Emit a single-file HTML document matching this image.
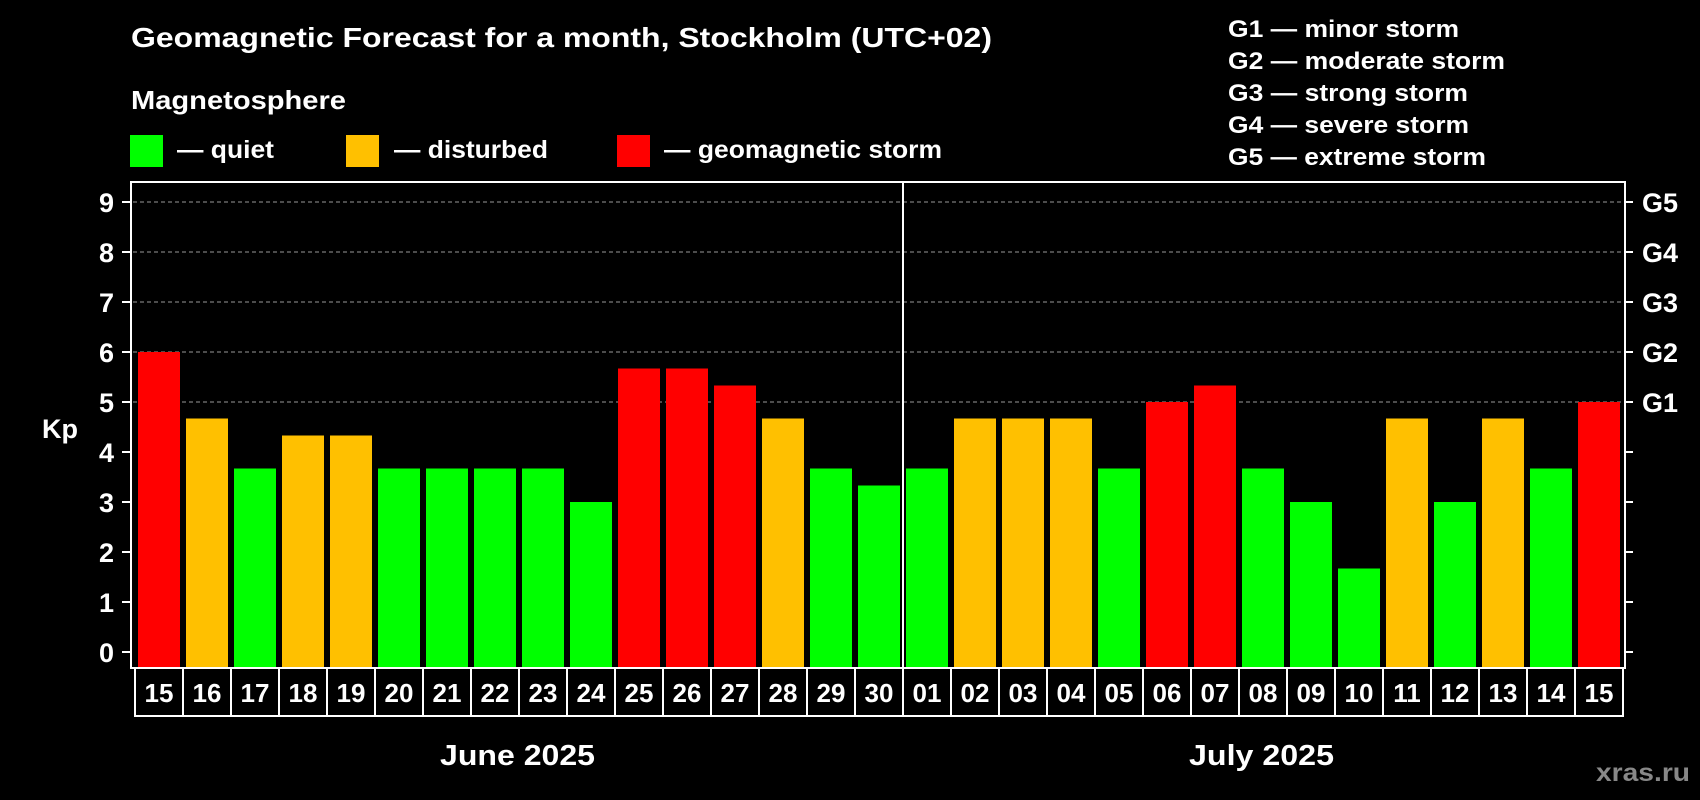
<!DOCTYPE html>
<html><head><meta charset="utf-8"><style>
html,body{margin:0;padding:0;background:#000;}
svg{display:block;font-family:"Liberation Sans",Arial,sans-serif;font-weight:bold;}
</style></head><body>
<svg id="chart" width="1700" height="800" viewBox="0 0 1700 800">
<rect x="0" y="0" width="1700" height="800" fill="#000"/>
<text x="131" y="47" fill="#fff" font-size="28" textLength="861" lengthAdjust="spacingAndGlyphs">Geomagnetic Forecast for a month, Stockholm (UTC+02)</text>
<text x="131" y="109" fill="#fff" font-size="26" textLength="215" lengthAdjust="spacingAndGlyphs">Magnetosphere</text>
<g>
<rect x="130" y="135" width="33" height="32" fill="#00ff00"/>
<text x="177" y="158" fill="#fff" font-size="25" textLength="97" lengthAdjust="spacingAndGlyphs">— quiet</text></g>
<g>
<rect x="346" y="135" width="33" height="32" fill="#ffc000"/>
<text x="394" y="158" fill="#fff" font-size="25" textLength="154" lengthAdjust="spacingAndGlyphs">— disturbed</text></g>
<g>
<rect x="617" y="135" width="33" height="32" fill="#ff0000"/>
<text x="664" y="158" fill="#fff" font-size="25" textLength="278" lengthAdjust="spacingAndGlyphs">— geomagnetic storm</text></g>
<g fill="#fff" font-size="24">
<text x="1228" y="37" textLength="231" lengthAdjust="spacingAndGlyphs">G1 — minor storm</text>
<text x="1228" y="69" textLength="277" lengthAdjust="spacingAndGlyphs">G2 — moderate storm</text>
<text x="1228" y="101" textLength="240" lengthAdjust="spacingAndGlyphs">G3 — strong storm</text>
<text x="1228" y="133" textLength="241" lengthAdjust="spacingAndGlyphs">G4 — severe storm</text>
<text x="1228" y="165" textLength="258" lengthAdjust="spacingAndGlyphs">G5 — extreme storm</text>
</g>
<g id="plot"></g>
<text x="42" y="438" fill="#fff" font-size="27">Kp</text>
<text x="440" y="765" fill="#fff" font-size="29" textLength="155" lengthAdjust="spacingAndGlyphs">June 2025</text>
<text x="1189" y="765" fill="#fff" font-size="29" textLength="145" lengthAdjust="spacingAndGlyphs">July 2025</text>
<text x="1596" y="781" fill="#888" font-size="25" textLength="94" lengthAdjust="spacingAndGlyphs">xras.ru</text>
</svg>
<script>
const days = ["15","16","17","18","19","20","21","22","23","24","25","26","27","28","29","30","01","02","03","04","05","06","07","08","09","10","11","12","13","14","15"];
const kpValues = [6,4.67,3.67,4.33,4.33,3.67,3.67,3.67,3.67,3,5.67,5.67,5.33,4.67,3.67,3.33,3.67,4.67,4.67,4.67,3.67,5,5.33,3.67,3,1.67,4.67,3,4.67,3.67,5];
const yTicks = [0,1,2,3,4,5,6,7,8,9];
const gLabels = ["G1","G2","G3","G4","G5"];
const gLevels = [5,6,7,8,9];

const NS = "http://www.w3.org/2000/svg";
const plot = document.getElementById('plot');
const FL = 131, FR = 1625, FT = 182, FB = 668;
const y = v => 652 - 50 * v;
const x = i => 138 + 48 * i;
const BW = 42;
function mk(tag, attrs) { const e = document.createElementNS(NS, tag); for (const k in attrs) e.setAttribute(k, attrs[k]); plot.appendChild(e); return e; }
function color(v) { return v >= 5 ? '#ff0000' : (v >= 4 ? '#ffc000' : '#00ff00'); }

gLevels.forEach((lv, i) => {
  const g = mk('line', {x1: FL + 2, x2: FR - 2, y1: y(lv), y2: y(lv), stroke: '#999', 'stroke-width': 1, 'stroke-dasharray': '4,3'});
  
  
});
kpValues.forEach((v, i) => {
  const r = mk('rect', {x: x(i), y: y(v), width: BW, height: FB - y(v), fill: color(v)});
  
  
});
const frame = mk('rect', {x: FL, y: FT, width: FR - FL, height: FB - FT, fill: 'none', stroke: '#fff', 'stroke-width': 2});


const div = mk('line', {x1: 903, x2: 903, y1: FT, y2: 716, stroke: '#fff', 'stroke-width': 2});


yTicks.forEach(t => {
  const l = mk('line', {x1: 122, x2: FL, y1: y(t), y2: y(t), stroke: '#fff', 'stroke-width': 2});
  
  
  const tx = mk('text', {x: 114, y: y(t) + 10, fill: '#fff', 'font-size': 27, 'text-anchor': 'end'});
  tx.textContent = t;
  
  
  const r = mk('line', {x1: FR, x2: FR + 8, y1: y(t), y2: y(t), stroke: '#fff', 'stroke-width': 2});
  
  
});
gLabels.forEach((g, i) => {
  const t = mk('text', {x: 1642, y: y(gLevels[i]) + 10, fill: '#fff', 'font-size': 27});
  t.textContent = g;
  
  
});
days.forEach((d, i) => {
  const b = mk('rect', {x: 135 + 48 * i, y: 668, width: 48, height: 48, fill: 'none', stroke: '#fff', 'stroke-width': 2});
  
  
  const t = mk('text', {x: 135 + 48 * i + 24, y: 702, fill: '#fff', 'font-size': 26, 'text-anchor': 'middle'});
  t.textContent = d;
  
  
});
</script>
</body></html>
